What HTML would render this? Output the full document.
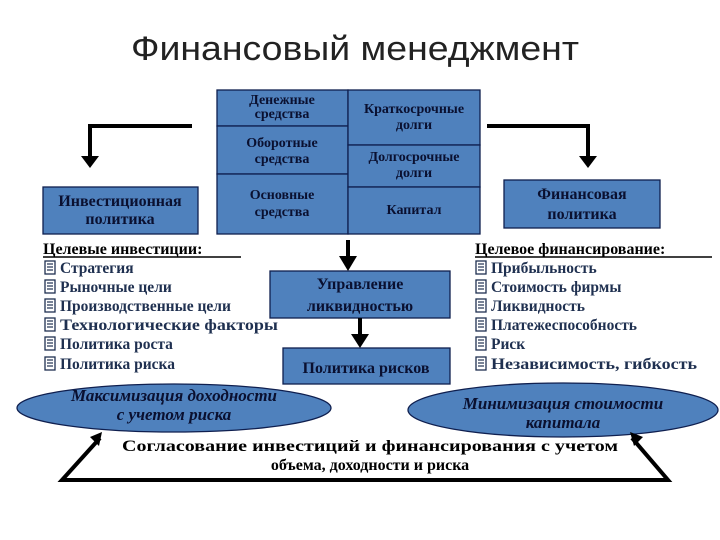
<!DOCTYPE html>
<html><head><meta charset="utf-8"><style>
html,body{margin:0;padding:0;background:#fff;width:720px;height:540px;overflow:hidden}
svg text{font-family:"Liberation Serif","DejaVu Serif",serif;font-weight:bold}
</style></head><body>
<svg width="720" height="540" viewBox="0 0 720 540" xmlns="http://www.w3.org/2000/svg">
<defs>
<g id="ic"><rect x="0" y="-12" width="10" height="13" fill="#fff" stroke="#1f3050" stroke-width="1.3"/><line x1="2" y1="-9" x2="8" y2="-9" stroke="#1f3050" stroke-width="1.2"/><line x1="2" y1="-6" x2="8" y2="-6" stroke="#1f3050" stroke-width="1.2"/><line x1="2" y1="-3" x2="8" y2="-3" stroke="#1f3050" stroke-width="1.2"/></g>
</defs>
<text x="355" y="60" text-anchor="middle" style="font-family:'Liberation Sans','DejaVu Sans',sans-serif;font-weight:normal" font-size="34" fill="#222" textLength="448" lengthAdjust="spacingAndGlyphs">Финансовый менеджмент</text>

<!-- center block -->
<g fill="#4f81bd" stroke="#0f1f4f" stroke-width="1.3">
<rect x="217" y="90" width="131" height="36"/>
<rect x="217" y="126" width="131" height="48"/>
<rect x="217" y="174" width="131" height="60"/>
<rect x="348" y="90" width="132" height="55"/>
<rect x="348" y="145" width="132" height="42"/>
<rect x="348" y="187" width="132" height="47"/>
<rect x="43" y="187" width="155" height="47"/>
<rect x="504" y="180" width="156" height="48"/>
<rect x="270" y="271" width="180" height="47"/>
<rect x="283" y="348" width="167" height="36"/>
<ellipse cx="174" cy="408" rx="157" ry="24"/>
<ellipse cx="563" cy="410" rx="155" ry="27"/>
</g>
<g fill="#0a1030" font-size="14" text-anchor="middle">
<text x="282" y="104">Денежные</text><text x="282" y="118">средства</text>
<text x="282" y="147">Оборотные</text><text x="282" y="163">средства</text>
<text x="282" y="199">Основные</text><text x="282" y="216">средства</text>
<text x="414" y="113">Краткосрочные</text><text x="414" y="129">долги</text>
<text x="414" y="161">Долгосрочные</text><text x="414" y="177">долги</text>
<text x="414" y="214">Капитал</text>
</g>
<g fill="#0a1030" font-size="16" text-anchor="middle">
<text x="120" y="206">Инвестиционная</text><text x="120" y="224">политика</text>
<text x="582" y="199">Финансовая</text><text x="582" y="219">политика</text>
<text x="360" y="289">Управление</text><text x="360" y="311">ликвидностью</text>
<text x="366" y="373">Политика рисков</text>
</g>
<g fill="#0a1030" font-size="17" font-style="italic" text-anchor="middle">
<text x="174" y="401" style="font-style:italic">Максимизация доходности</text>
<text x="174" y="420" style="font-style:italic">с учетом риска</text>
<text x="563" y="409" style="font-style:italic">Минимизация стоимости</text>
<text x="563" y="428" style="font-style:italic">капитала</text>
</g>

<!-- arrows -->
<g stroke="#000" stroke-width="4" fill="none">
<polyline points="192,126 90,126 90,158"/>
<polyline points="487,126 588,126 588,158"/>
<line x1="348" y1="240" x2="348" y2="258"/>
<line x1="360" y1="318" x2="360" y2="336"/>
<polyline points="100,438 62,480 668,480 632,438"/>
</g>
<g fill="#000">
<polygon points="81,156 99,156 90,168"/>
<polygon points="579,156 597,156 588,168"/>
<polygon points="339,256 357,256 348,271"/>
<polygon points="351,334 369,334 360,348"/>
<polygon points="102,432 90,437 99,446"/>
<polygon points="630,432 643,437 634,446"/>
</g>

<g fill="#000" font-size="16">
<text x="43" y="254">Целевые инвестиции:</text>
<line x1="43" y1="257" x2="241" y2="257" stroke="#000" stroke-width="1.5"/>
<text x="475" y="254">Целевое финансирование:</text>
<line x1="475" y1="257" x2="712" y2="257" stroke="#000" stroke-width="1.5"/>
</g>
<g fill="#1f3050" font-size="15.5">
<use href="#ic" x="45" y="273"/><text x="60" y="273">Стратегия</text>
<use href="#ic" x="45" y="292"/><text x="60" y="292">Рыночные цели</text>
<use href="#ic" x="45" y="311"/><text x="60" y="311">Производственные цели</text>
<use href="#ic" x="45" y="330"/><text x="60" y="330" textLength="218" lengthAdjust="spacingAndGlyphs">Технологические факторы</text>
<use href="#ic" x="45" y="349"/><text x="60" y="349">Политика роста</text>
<use href="#ic" x="45" y="369"/><text x="60" y="369">Политика риска</text>
<use href="#ic" x="476" y="273"/><text x="491" y="273">Прибыльность</text>
<use href="#ic" x="476" y="292"/><text x="491" y="292">Стоимость фирмы</text>
<use href="#ic" x="476" y="311"/><text x="491" y="311">Ликвидность</text>
<use href="#ic" x="476" y="330"/><text x="491" y="330">Платежеспособность</text>
<use href="#ic" x="476" y="349"/><text x="491" y="349">Риск</text>
<use href="#ic" x="476" y="369"/><text x="491" y="369" textLength="206" lengthAdjust="spacingAndGlyphs">Независимость, гибкость</text>
</g>
<g fill="#000" font-size="16" text-anchor="middle">
<text x="370" y="451" textLength="496" lengthAdjust="spacingAndGlyphs">Согласование инвестиций и финансирования с учетом</text>
<text x="370" y="470">объема, доходности и риска</text>
</g>
</svg>
</body></html>
